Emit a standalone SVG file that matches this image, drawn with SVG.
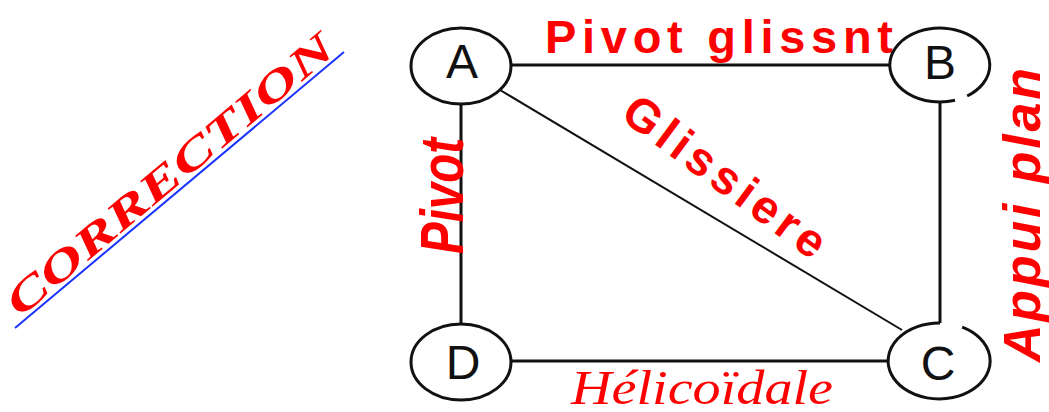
<svg xmlns="http://www.w3.org/2000/svg" width="1049" height="412" viewBox="0 0 1049 412">
  <style>
    .node { fill: #ffffff; stroke: #111111; stroke-width: 3; }
    .letter { font-family: "Liberation Sans", Arial, sans-serif; font-size: 48px; fill: #111111; text-anchor: middle; }
    .link { stroke: #111111; stroke-width: 3; fill: none; }
    .thin { stroke: #111111; stroke-width: 2; fill: none; }
    .lbl { font-family: "Liberation Sans", Arial, sans-serif; font-weight: bold; fill: #ff0000; }
    .lbl-it { font-family: "Liberation Sans", Arial, sans-serif; font-weight: bold; font-style: italic; fill: #ff0000; }
    .serif-it { font-family: "Liberation Serif", "Times New Roman", serif; font-style: italic; fill: #ff0000; }
  </style>

  <rect width="1049" height="412" fill="#ffffff"/>

  <!-- heading written along a diagonal with its underline -->
  <g id="heading">
    <line x1="15" y1="328" x2="344" y2="52" stroke="#1a33ff" stroke-width="2"/>
    <text class="serif-it" font-weight="bold" font-size="42" transform="translate(20,318) rotate(-40)" textLength="414" lengthAdjust="spacingAndGlyphs">CORRECTION</text>
  </g>

  <!-- links between the parts -->
  <g id="connectors">
    <line class="link" x1="511" y1="65" x2="890" y2="65"/>
    <line class="link" x1="461" y1="104" x2="461" y2="324"/>
    <line class="link" x1="940" y1="101" x2="940" y2="323"/>
    <line class="link" x1="511" y1="361" x2="889" y2="361"/>
    <line class="thin" x1="500" y1="90" x2="902" y2="330"/>
  </g>

  <!-- link labels -->
  <g id="labels">
    <text class="lbl" font-size="47" x="545" y="53" textLength="348" lengthAdjust="spacing">Pivot glissnt</text>
    <text class="lbl" font-size="47" transform="translate(619,118) rotate(36.5)" textLength="240" lengthAdjust="spacing">Glissiere</text>
    <text class="lbl-it" font-size="62" transform="translate(463,254) rotate(-90)" textLength="116" lengthAdjust="spacingAndGlyphs">Pivot</text>
    <text class="lbl-it" font-size="52" transform="translate(1040,362) rotate(-90)" textLength="294" lengthAdjust="spacing">Appui plan</text>
    <text class="serif-it" font-size="48" x="571" y="404" textLength="262" lengthAdjust="spacingAndGlyphs">Hélicoïdale</text>
  </g>

  <g id="node-A">
    <ellipse class="node" cx="461" cy="66" rx="50" ry="38"/>
    <text class="letter" x="462" y="78">A</text>
  </g>

  <g id="node-B">
    <path class="node" d="M955 100.3 A50 37 0 1 1 967.2 96"/>
    <text class="letter" x="940" y="79">B</text>
  </g>

  <g id="node-C">
    <path class="node" d="M962.2 327.1 A51 38 0 1 1 940 323"/>
    <text class="letter" x="938" y="380">C</text>
  </g>

  <g id="node-D">
    <ellipse class="node" cx="461" cy="362" rx="50" ry="38"/>
    <text class="letter" x="463" y="379">D</text>
  </g>
</svg>
